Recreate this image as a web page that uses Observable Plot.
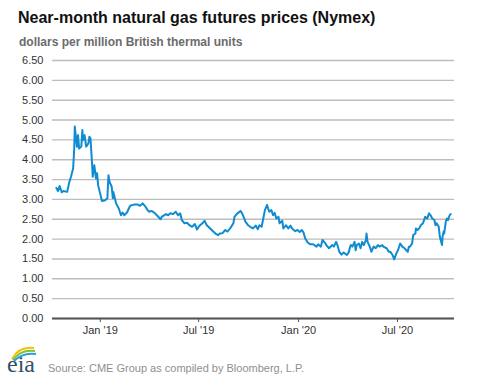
<!DOCTYPE html>
<html>
<head>
<meta charset="utf-8">
<script src="https://cdn.jsdelivr.net/npm/d3@7"></script>
<script src="https://cdn.jsdelivr.net/npm/@observablehq/plot@0.6"></script>
<style>
  html, body { margin: 0; padding: 0; background: #fff; }
  #wrap { position: relative; width: 477px; height: 379px; overflow: hidden; font-family: "Liberation Sans", Arial, sans-serif; }
  #chart { position: absolute; left: 0; top: 0; }
  #overlay { position: absolute; left: 0; top: 0; pointer-events: none; }
</style>
</head>
<body>
<div id="wrap">
  <div id="chart"></div>
  <svg id="overlay" width="477" height="379" font-family="Liberation Sans, Arial, sans-serif">
    <text x="18" y="23" font-size="16" font-weight="bold" fill="#111">Near-month natural gas futures prices (Nymex)</text>
    <text x="19" y="46" font-size="12" font-weight="bold" fill="#6b6b6b">dollars per million British thermal units</text>
    <g>
      <path d="M12,359 Q19,346 34,348" fill="none" stroke="#f2c200" stroke-width="2"/>
      <path d="M13,360 Q21,349 35,351" fill="none" stroke="#7cc242" stroke-width="2"/>
      <path d="M14,361 Q23,352 36,354" fill="none" stroke="#2a9fd8" stroke-width="2"/>
      <text x="7" y="372" font-size="24" font-family="Liberation Serif, DejaVu Serif, serif" fill="#34506b">eia</text>
    </g>
    <text x="48" y="372" font-size="11" fill="#8f8f8f">Source: CME Group as compiled by Bloomberg, L.P.</text>
  </svg>
</div>
<script>
const dates = [
"2018-10-12","2018-10-15","2018-10-18","2018-10-22","2018-10-25","2018-11-01","2018-11-05","2018-11-08","2018-11-12","2018-11-14",
"2018-11-15","2018-11-19","2018-11-21","2018-11-23","2018-11-27","2018-11-29","2018-11-30","2018-12-03","2018-12-06","2018-12-10",
"2018-12-12","2018-12-14","2018-12-17","2018-12-18","2018-12-21","2018-12-24","2018-12-26","2018-12-28","2018-12-31","2019-01-04",
"2019-01-10","2019-01-14","2019-01-16","2019-01-18","2019-01-22","2019-01-24","2019-01-25","2019-01-30","2019-02-04","2019-02-08",
"2019-02-11","2019-02-14","2019-02-19","2019-02-25","2019-03-04","2019-03-11","2019-03-15","2019-03-20","2019-03-25","2019-03-29",
"2019-04-01","2019-04-05","2019-04-11","2019-04-15","2019-04-22","2019-04-24","2019-04-26","2019-05-02","2019-05-06","2019-05-10",
"2019-05-15","2019-05-20","2019-05-24","2019-05-28","2019-05-31","2019-06-05","2019-06-10","2019-06-14","2019-06-19","2019-06-24",
"2019-06-28","2019-07-02","2019-07-08","2019-07-12","2019-07-16","2019-07-19","2019-07-25","2019-08-01","2019-08-06","2019-08-09",
"2019-08-14","2019-08-19","2019-08-23","2019-08-28","2019-09-03","2019-09-05","2019-09-09","2019-09-16","2019-09-19","2019-09-23",
"2019-09-25","2019-09-30","2019-10-04","2019-10-09","2019-10-14","2019-10-18","2019-10-21","2019-10-25","2019-10-28","2019-10-31",
"2019-11-04","2019-11-06","2019-11-08","2019-11-12","2019-11-15","2019-11-18","2019-11-21","2019-11-25","2019-11-27","2019-12-02",
"2019-12-04","2019-12-09","2019-12-13","2019-12-17","2019-12-20","2019-12-26","2019-12-30","2020-01-03","2020-01-07","2020-01-10",
"2020-01-13","2020-01-17","2020-01-22","2020-01-28","2020-02-03","2020-02-06","2020-02-11","2020-02-14","2020-02-19","2020-02-21",
"2020-02-26","2020-03-03","2020-03-06","2020-03-10","2020-03-12","2020-03-16","2020-03-20","2020-03-24","2020-03-30","2020-04-02",
"2020-04-06","2020-04-09","2020-04-13","2020-04-15","2020-04-17","2020-04-21","2020-04-24","2020-04-27","2020-04-30","2020-05-04",
"2020-05-05","2020-05-07","2020-05-11","2020-05-14","2020-05-18","2020-05-22","2020-05-26","2020-05-29","2020-06-03","2020-06-05",
"2020-06-11","2020-06-15","2020-06-18","2020-06-22","2020-06-25","2020-06-29","2020-07-02","2020-07-06","2020-07-10","2020-07-14",
"2020-07-20","2020-07-22","2020-07-24","2020-07-28","2020-07-30","2020-08-03","2020-08-04","2020-08-07","2020-08-10","2020-08-13",
"2020-08-17","2020-08-19","2020-08-21","2020-08-25","2020-08-28","2020-08-31","2020-09-03","2020-09-07","2020-09-09","2020-09-11",
"2020-09-15","2020-09-17","2020-09-21","2020-09-22","2020-09-24","2020-09-25","2020-09-28","2020-09-30","2020-10-02","2020-10-05",
"2020-10-07"
];
const prices = [
3.29,3.21,3.34,3.18,3.21,3.19,3.44,3.57,3.78,4.28,
4.84,4.33,4.62,4.28,4.33,4.75,4.49,4.62,4.33,4.41,
4.58,4.53,3.86,3.57,3.86,3.53,3.66,3.36,3.19,2.96,
2.98,3.03,3.61,3.44,3.32,3.03,3.19,2.90,2.77,2.60,
2.67,2.60,2.67,2.84,2.87,2.87,2.84,2.90,2.82,2.73,
2.69,2.71,2.66,2.60,2.50,2.56,2.58,2.63,2.60,2.65,
2.63,2.69,2.60,2.65,2.48,2.40,2.41,2.35,2.31,2.38,
2.24,2.33,2.40,2.46,2.35,2.31,2.23,2.14,2.10,2.14,
2.15,2.23,2.19,2.27,2.40,2.56,2.63,2.71,2.65,2.52,
2.44,2.35,2.31,2.27,2.34,2.25,2.35,2.31,2.52,2.73,
2.86,2.77,2.69,2.73,2.60,2.66,2.52,2.56,2.40,2.46,
2.27,2.35,2.27,2.34,2.27,2.20,2.23,2.18,2.23,2.17,
2.02,1.93,1.87,1.87,1.81,1.87,1.81,1.98,1.90,1.85,
1.77,1.85,1.81,1.93,1.87,1.68,1.61,1.66,1.60,1.66,
1.85,1.81,1.93,1.72,1.85,1.89,1.77,1.93,1.85,1.98,
2.14,1.93,1.81,1.68,1.81,1.77,1.85,1.81,1.85,1.81,
1.77,1.68,1.68,1.60,1.49,1.64,1.72,1.89,1.81,1.77,
1.68,1.81,1.81,1.89,2.10,2.14,2.27,2.23,2.27,2.35,
2.40,2.48,2.56,2.52,2.65,2.60,2.52,2.48,2.35,2.40,
2.31,2.06,1.85,2.06,2.19,2.14,2.44,2.52,2.48,2.60,
2.63
];
const yTicks = [0,0.5,1,1.5,2,2.5,3,3.5,4,4.5,5,5.5,6,6.5];
const xTickDates = ["2019-01-01","2019-07-01","2020-01-01","2020-07-01"];
const xTickLabels = ["Jan '19","Jul '19","Jan '20","Jul '20"];
const xDomain = ["2018-10-05","2020-10-14"];

const data = dates.map((d, i) => ({date: new Date(d), price: prices[i]}));
const xTicks = xTickDates.map(d => new Date(d));
const labelMap = new Map(xTicks.map((d, i) => [+d, xTickLabels[i]]));

const chart = Plot.plot({
  width: 477,
  height: 345,
  marginTop: 60,
  marginBottom: 27,
  marginLeft: 52,
  marginRight: 23,
  style: {fontFamily: "Liberation Sans, Arial, sans-serif", fontSize: "11px", color: "#333", background: "transparent"},
  x: {type: "utc", domain: xDomain.map(d => new Date(d)), axis: null},
  y: {domain: [0, 6.5], axis: null},
  marks: [
    Plot.gridY(yTicks, {stroke: "#bdbdbd", strokeOpacity: 1, strokeWidth: 1.4}),
    Plot.axisY(yTicks, {label: null, tickSize: 0, tickPadding: 9, tickFormat: d => d.toFixed(2), color: "#333", fontSize: 11}),
    Plot.axisX(xTicks, {label: null, tickSize: 4, tickPadding: 4, tickFormat: d => labelMap.get(+d), color: "#333", stroke: "#555", fontSize: 11}),
    Plot.ruleY([0], {stroke: "#555", strokeWidth: 2}),
    Plot.lineY(data, {x: "date", y: "price", stroke: "#0f8bd1", strokeWidth: 2})
  ]
});
document.getElementById("chart").appendChild(chart);
</script>
</body>
</html>
